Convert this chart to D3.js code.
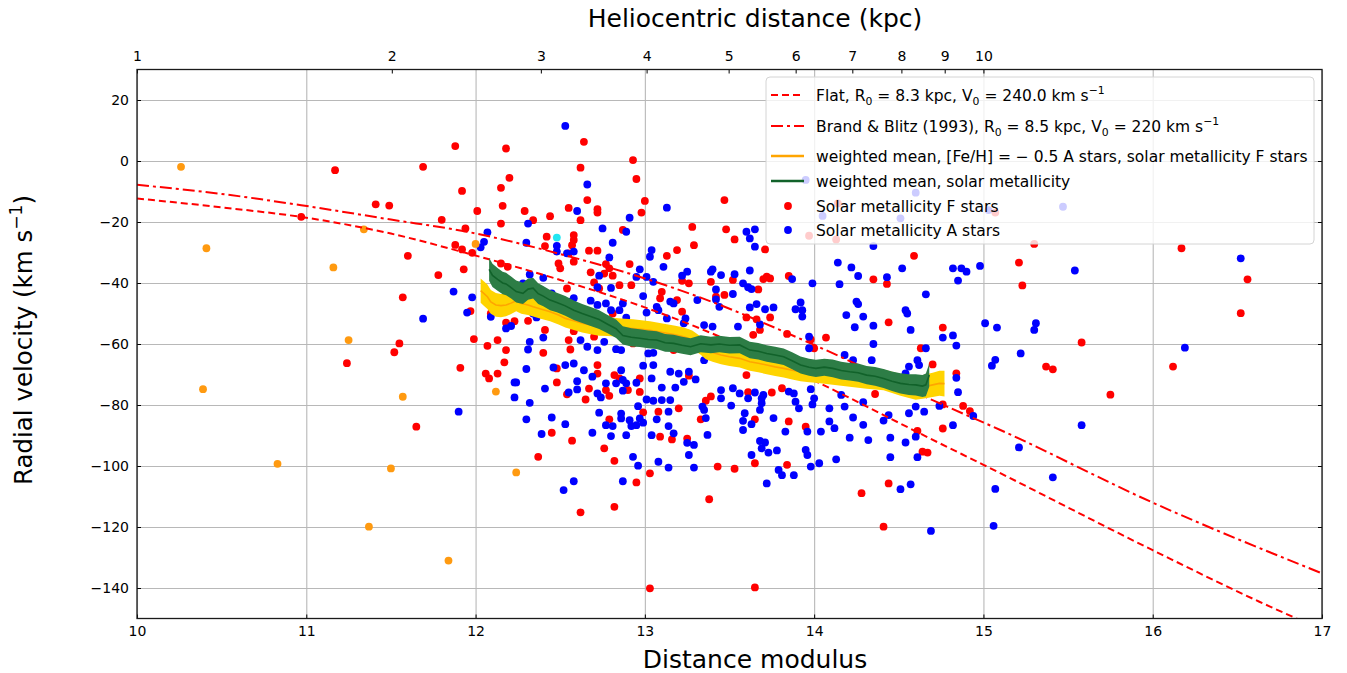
<!DOCTYPE html>
<html><head><meta charset="utf-8">
<script src="https://cdn.jsdelivr.net/npm/d3@7"></script>
<style>body{margin:0;background:#fff}svg{font-family:"DejaVu Sans",sans-serif}</style>
</head><body><svg id="c" width="1347" height="673"></svg>
<script>
// ---------------- DATA ----------------
const xTicks=[10,11,12,13,14,15,16,17];
const yTicks=[-140,-120,-100,-80,-60,-40,-20,0,20];
const kpcTicks=[1,2,3,4,5,6,7,8,9,10];

// model curves
const flatMu=[10,10.5,11,11.5,11.92,12.5,13,13.33,14,14.74,15,16,16.63,16.87];
const flatV=[-12.3,-15.2,-18.6,-23.8,-29.8,-39,-48,-55,-72,-92.5,-99.6,-127.6,-144.5,-150.5];
const bbMu=[10,10.5,10.97,11.5,11.95,12.5,13,13.33,13.98,14.74,15.1,16,17];
const bbV=[-7.8,-10.8,-14.5,-19.2,-23.2,-30.5,-38.5,-44.8,-59.8,-79.4,-88.2,-112,-135.2];

// weighted mean, solar metallicity (green)
const greenMu=[12.08,12.10,12.13,12.16,12.18,12.21,12.24,12.28,12.31,12.34,12.37,12.40,12.44,12.48,12.53,12.58,12.63,12.68,12.73,12.78,12.83,12.87,12.92,12.97,13.02,13.07,13.12,13.17,13.22,13.27,13.33,13.39,13.44,13.50,13.56,13.62,13.67,13.72,13.77,13.82,13.87,13.92,13.97,14.01,14.06,14.11,14.16,14.21,14.26,14.31,14.36,14.41,14.46,14.51,14.56,14.60,14.64,14.66,14.68];
const greenV=[-35.5,-37.5,-38.8,-40.0,-40.3,-41.5,-42.8,-43.4,-42.0,-41.7,-43.5,-44.3,-45.6,-46.4,-47.5,-48.9,-50.0,-51.0,-52.0,-53.5,-55.0,-57.2,-57.8,-58.1,-58.5,-58.7,-59.6,-59.8,-60.4,-60.9,-59.9,-60.3,-60.0,-60.4,-60.3,-62.0,-62.4,-63.1,-63.6,-64.2,-65.5,-66.9,-67.6,-68.0,-67.6,-68.0,-68.7,-69.1,-69.4,-70.2,-70.6,-71.3,-72.2,-72.9,-73.3,-73.4,-73.8,-73.4,-70.2];
const greenErr=[3.8,3.8,3.7,3.7,3.7,3.6,3.6,3.5,3.5,3.4,3.4,3.3,3.3,3.2,3.2,3.2,3.1,3.1,3.1,3.0,3.0,3.0,3.0,2.9,2.9,2.9,2.9,2.8,2.8,2.8,2.8,2.7,2.7,2.7,2.7,2.7,2.7,2.7,2.7,2.7,2.8,2.8,2.8,2.8,2.8,2.9,2.9,2.9,3.0,3.0,3.1,3.1,3.2,3.3,3.4,3.5,3.6,3.7,3.8];

// weighted mean, [Fe/H]=-0.5 A + solar F (orange)
const orangeMu=[12.03,12.05,12.07,12.09,12.12,12.15,12.18,12.21,12.24,12.27,12.31,12.34,12.39,12.44,12.49,12.53,12.58,12.63,12.68,12.73,12.78,12.83,12.88,12.93,12.98,13.03,13.08,13.13,13.18,13.23,13.28,13.33,13.36,13.40,13.45,13.50,13.56,13.62,13.67,13.72,13.77,13.82,13.87,13.92,13.97,14.01,14.06,14.11,14.16,14.21,14.31,14.41,14.46,14.51,14.56,14.60,14.65,14.70,14.74,14.77];
const orangeV=[-42.5,-43.5,-44.5,-46.2,-47.2,-47.4,-47.2,-46.6,-45.8,-46.7,-47.2,-47.8,-48.6,-49.4,-50.5,-51.6,-52.4,-53.2,-53.8,-54.3,-54.4,-54.5,-54.7,-54.9,-55.2,-55.5,-56.0,-56.5,-57.0,-57.6,-58.6,-60.5,-62.0,-62.8,-63.6,-64.2,-64.7,-65.8,-66.3,-66.9,-67.5,-68.0,-68.6,-69.1,-69.4,-69.6,-69.9,-70.2,-70.5,-70.8,-71.4,-71.8,-72.6,-73.4,-74.0,-74.5,-74.0,-73.4,-72.9,-73.0];
const orangeErr=[4.0,4.0,4.0,3.9,3.9,3.8,3.7,3.6,3.5,3.4,3.3,3.2,3.2,3.1,3.1,3.0,3.0,3.0,3.0,3.0,3.0,3.0,3.0,3.0,3.0,3.0,3.0,3.0,3.0,3.0,3.0,3.0,3.0,3.0,3.0,3.0,3.0,3.0,3.0,3.0,3.0,3.0,3.0,3.1,3.1,3.1,3.1,3.2,3.2,3.2,3.3,3.4,3.5,3.6,3.7,3.8,3.9,4.0,4.1,4.2];

// Solar metallicity F stars [distance modulus, RV]
const fStars=[[11.17,-3],[11.69,-1.9],[11.88,4.9],[11.92,-9.8],[11.41,-14.2],[11.49,-14.6],[10.97,-18.3],[11.80,-19.3],[11.94,-22.1],[11.88,-27.5],[11.92,-29],[11.60,-31.1],[11.93,-35.5],[11.78,-37.4],[11.57,-44.7],[11.55,-59.8],[11.52,-62.7],[11.24,-66.3],[11.91,-67.8],[11.65,-87.1],
[12.18,4.1],[12.64,6.3],[12.93,0.3],[12.62,-2.2],[12.95,-5.9],[12.20,-5.5],[12.15,-8.8],[12.66,-12.8],[13.00,-13.1],[12.16,-14.7],[12.01,-16.4],[12.29,-16.4],[12.34,-19.4],[12.44,-18.1],[12.55,-15.4],[12.72,-15.8],[12.72,-16.9],[12.62,-19.4],[12.98,-16.9],[12.15,-20.5],[13.28,-21.6],[13.29,-27.6],[12.87,-22.6],[12.42,-24.8],[12.58,-24.3],[12.58,-25.9],[12.57,-27.6],[11.98,-30.1],[12.41,-27.9],[12.55,-30.3],[12.67,-29.4],[12.72,-29.4],[12.15,-33.6],[12.19,-34.7],[12.49,-33.6],[12.50,-35.2],[12.58,-33.0],[12.77,-33.8],[12.91,-33.8],[13.13,-31.1],[13.19,-29.2],[12.76,-36.9],[12.68,-36.5],[12.79,-35.2],[12.81,-37.6],[12.54,-41.8],[12.70,-39.8],[12.73,-41.8],[12.85,-40.7],[12.92,-40.7],[13.22,-39.3],[13.26,-40.1],[13.10,-42.9],[13.19,-45.6],[13.22,-49.4],[11.97,-49.2],[12.09,-50],[12.18,-53],[12.23,-52.5],[12.31,-52.4],[12.41,-55.4],[12.58,-55.8],[12.68,-49.6],[12.81,-50],[12.84,-53.2],[12.90,-53.8],[13.09,-45.0],[11.99,-58.4],[12.13,-58.7],[12.18,-62],[12.55,-58.7],[12.56,-61.8],[12.70,-57.6],[12.93,-59.8],[12.97,-57.6],[13.17,-62],[13.28,-57.6],[12.07,-60.6],[12.40,-62.9],
[12.17,-66.0],[12.06,-69.7],[12.08,-71.3],[12.13,-69.7],[12.48,-68.0],[12.48,-72.6],[12.72,-66.9],[12.72,-69.7],[12.82,-70.2],[12.85,-71.3],[12.97,-71.3],[12.97,-75.7],[12.90,-75.1],[12.67,-74.6],[12.77,-75.1],[12.79,-77],[12.54,-76.5],[12.65,-78.2],[13.26,-70.4],[13.20,-81.1],[13.09,-90.4],[13.16,-91.3],[13.25,-91],[12.99,-82.4],[13.08,-82.2],[12.79,-84.7],[12.45,-89.1],[12.57,-91.7],[12.76,-94.2],[12.82,-98.3],[12.37,-97],[13.03,-102.4],[12.95,-105.4],[12.82,-113.4],[12.62,-115.2],[13.03,-140.1],
[13.47,-12.8],[13.48,-22.4],[13.53,-25.7],[13.71,-29],[13.97,-24.5],[14.13,-25.7],[14.14,-13.9],[14.59,-31.1],[14.35,-38.8],[14.43,-40.3],[13.39,-39.6],[13.52,-39],[13.70,-38.7],[13.72,-37.9],[13.74,-38.5],[13.85,-37.7],[13.67,-42.1],[13.42,-44.5],[13.47,-43.9],[13.60,-51.3],[13.66,-51.9],[13.74,-51.3],[13.68,-55.4],[13.64,-57],[13.84,-56.7],[14.07,-57.9],[13.98,-58.5],[14.44,-52.9],[14.63,-61.4],[14.70,-66.7],[13.60,-70.2],[14.00,-61.4],
[13.61,-75.8],[13.39,-77.2],[13.36,-78.6],[13.33,-84.7],[13.65,-84.7],[13.75,-75.9],[13.81,-74.5],[13.95,-87.1],[13.85,-85.4],[14.36,-76.4],[14.61,-88.5],[14.64,-95.3],[14.67,-95.6],[13.43,-100.2],[13.53,-100.9],[13.65,-99.1],[13.84,-99.6],[13.38,-110.9],[14.28,-108.9],[14.44,-105.7],[14.41,-119.9],[13.65,-139.8],
[15.07,-16.9],[15.30,-27.2],[15.21,-33.3],[15.23,-40.8],[16.17,-28.6],[16.56,-38.8],[16.52,-49.9],[14.76,-54.6],[14.84,-69.6],[14.76,-79.8],[14.88,-80.3],[14.92,-82],[14.76,-87.7],[15.37,-67.4],[15.41,-68.3],[15.58,-59.5],[15.75,-76.6],[16.12,-67.4]];

// Solar metallicity A stars
const aStars=[[11.87,-42.8],[11.69,-51.7],[11.95,-49.7],[11.90,-82.2],
[12.53,11.5],[12.66,-7.7],[12.60,-16.4],[12.91,-18.6],[13.13,-15.3],[12.75,-22.1],[12.89,-23.2],[12.31,-20.5],[12.07,-23.4],[12.05,-26.5],[12.03,-28.3],[12.30,-26.8],[12.48,-27.8],[12.48,-29.7],[12.58,-29.7],[12.54,-30.3],[12.81,-26.8],[12.79,-31.6],[12.80,-41.6],[12.73,-37.6],[12.72,-41.4],[13.04,-29.2],[13.03,-31.4],[13.11,-34.7],[12.97,-35.5],[13.01,-38],[12.95,-38],[13.05,-39.6],[13.22,-37.6],[13.25,-36.3],[12.32,-37.2],[12.28,-40.1],[12.40,-38.3],[11.98,-44.7],[12.09,-51.1],[12.45,-43.4],[12.56,-46.1],[12.58,-45.0],[12.68,-45.8],[12.72,-47.2],[12.77,-46.7],[12.80,-48.9],[12.87,-46.7],[12.85,-48.9],[12.89,-51.4],[12.99,-44.3],[13.07,-47.8],[13.08,-48.9],[13.15,-46.1],[13.17,-46.7],[13.31,-45.6],[13.01,-49.7],[13.13,-51.6],[13.24,-51.6],[13.23,-53.2],[12.34,-50],[12.36,-51.3],[12.18,-54.9],[12.21,-54.1],[12.32,-59.3],[12.31,-61.8],[12.40,-57.9],[12.62,-58.7],[12.66,-60.9],[12.72,-62],[12.76,-59.3],[12.83,-61.7],[12.86,-62],[13.02,-63.1],[13.05,-62.9],[13.21,-59.3],[13.25,-56.5],
[12.23,-72.6],[12.24,-72.6],[12.23,-77.5],[12.30,-68.2],[12.41,-74.6],[12.32,-79.3],[12.46,-67.7],[12.53,-66.9],[12.58,-66.4],[12.60,-72.2],[12.55,-75.9],[12.60,-74.9],[12.64,-68.6],[12.69,-70.7],[12.72,-76.2],[12.74,-77.5],[12.77,-72.9],[12.83,-72.9],[12.86,-68.6],[12.87,-71.8],[12.89,-72.9],[12.87,-75.3],[12.95,-72.7],[12.99,-67.1],[13.05,-66.9],[13.04,-71.3],[13.10,-74.3],[13.15,-69.1],[13.18,-74.3],[13.20,-69.7],[13.23,-72.4],[13.26,-69.1],[13.30,-71.6],[13.01,-78.2],[13.05,-78.6],[13.10,-78.4],[13.15,-78.4],[13.14,-82.2],[12.96,-80.4],[12.73,-82.5],[12.86,-82.8],[12.86,-84.4],[12.91,-85],[12.97,-84.4],[12.99,-85.8],[12.95,-86.6],[12.92,-86.9],[12.81,-86.9],[12.77,-86.6],[12.80,-90.2],[12.89,-89.9],[13.07,-84.7],[13.14,-86.9],[13.17,-89.3],[13.04,-89.9],[12.69,-89.1],[12.53,-86.3],[12.45,-84.1],[12.30,-84.7],[12.39,-89.5],[13.25,-92.4],[13.29,-93.1],[13.26,-96.4],[13.29,-100.5],[13.14,-100.5],[13.08,-98.6],[12.96,-99.9],[12.93,-97],[12.87,-105],[12.58,-105],[12.52,-107.9],
[13.60,-23.2],[13.65,-22.4],[13.62,-25.4],[13.65,-28.1],[14.05,-18],[14.51,-18.8],[14.35,-27.9],[14.14,-33.3],[14.22,-34.9],[14.52,-35.2],[14.26,-37.7],[14.43,-38.1],[14.15,-40.4],[13.99,-40.1],[13.87,-38.7],[13.40,-35.5],[13.39,-36.3],[13.45,-37.4],[13.53,-37.1],[13.62,-35.9],[13.58,-40.1],[13.61,-41.4],[13.63,-42],[13.42,-42.1],[13.52,-43.6],[13.42,-45.4],[13.44,-47.8],[13.62,-48],[13.66,-46.9],[13.71,-48.6],[13.76,-48],[13.92,-46.4],[13.89,-48.6],[13.93,-48.9],[13.93,-51.0],[13.55,-54.3],[13.35,-53.8],[13.40,-54.3],[13.68,-53.6],[13.97,-57.6],[14.19,-50.5],[14.24,-54.5],[14.29,-51],[14.25,-46.1],[14.26,-46.9],[14.35,-54],[14.57,-55.4],[14.54,-48.9],[14.55,-50],[14.66,-43.7],[14.35,-60],[14.18,-63.6],[14.23,-65.3],[14.34,-65.3],[14.66,-61.4],[14.61,-65.3],[14.62,-66.9],[14.56,-67.4],[14.54,-69.6],[13.35,-65.3],[13.97,-61.4],[13.95,-6.2],[14.60,-10.4],
[13.45,-75.1],[13.52,-74.5],[13.45,-77.8],[13.51,-80.2],[13.56,-76.2],[13.61,-77.8],[13.65,-75.9],[13.34,-80.5],[13.35,-81.6],[13.36,-84.3],[13.37,-89.8],[13.59,-82.7],[13.58,-85.2],[13.63,-86.3],[13.58,-88.2],[13.69,-77.8],[13.70,-76.7],[13.69,-79.4],[13.68,-81.6],[13.68,-91.8],[13.71,-92.3],[13.69,-94.2],[13.73,-95.6],[13.63,-96.4],[13.76,-84.3],[13.78,-94.9],[13.83,-88.7],[13.85,-75.6],[13.88,-76.2],[13.89,-78.9],[13.91,-81.1],[13.98,-74.8],[14.00,-77.8],[13.99,-79.8],[13.96,-88.7],[13.95,-94.7],[13.96,-96.4],[13.98,-100.2],[14.03,-99.1],[14.13,-97.8],[13.79,-101.3],[13.81,-103.0],[13.88,-103],[13.72,-105.7],[14.09,-81.1],[14.09,-85.4],[14.12,-87.6],[14.04,-88.7],[14.18,-80.5],[14.23,-84.1],[14.21,-90.7],[14.29,-86.5],[14.32,-91.5],[14.29,-79.1],[14.16,-76.7],[14.41,-85.1],[14.44,-83.3],[14.45,-90.7],[14.45,-97.1],[14.54,-92.3],[14.56,-82.7],[14.60,-90.4],[14.61,-97.1],[14.65,-82.2],[14.60,-80.5],[14.51,-107.6],[14.57,-106],[14.69,-121.3],
[15.03,-16.1],[15.47,-15],[14.82,-35.2],[14.87,-35.2],[14.90,-36.3],[14.85,-39.2],[14.98,-34.4],[15.54,-35.9],[16.52,-31.9],[15.01,-53.2],[15.08,-54.6],[15.31,-53.2],[15.30,-55.4],[14.76,-57.9],[14.82,-57.2],[14.84,-60.5],[15.22,-63.1],[15.07,-65.2],[15.05,-67.1],[14.84,-71.1],[14.85,-75.8],[14.74,-80.3],[14.82,-86.6],[14.94,-83.6],[16.19,-61.2],[15.58,-86.6],[15.21,-93.9],[15.41,-103.7],[15.07,-107.5],[15.06,-119.6]];

// metal-poor stars (orange dots) and one cyan point
const poorStars=[[10.26,-1.9],[10.41,-28.6],[10.39,-74.8],[10.83,-99.3],[11.16,-34.9],[11.34,-22.4],[11.25,-58.7],[11.57,-77.3],[11.50,-100.8],[11.37,-119.9],[11.84,-131],[12.0,-27.2],[12.12,-75.6],[12.24,-102.1]];
const cyanStars=[[12.48,-25.1]];

// ---------------- CHART ----------------
const m={l:137,r:1322,t:69.5,b:618.5};
const labelCX=755;
const svg=d3.select("#c");
const x=d3.scaleLinear().domain([10,17]).range([m.l,m.r]);
const y=d3.scaleLinear().domain([-150,30]).range([m.b,m.t]);
const xTop=d3.scaleLog().domain([1,Math.pow(10,1.4)]).range([m.l,m.r]);

svg.append("defs").append("clipPath").attr("id","clip").append("rect")
  .attr("x",m.l).attr("y",m.t).attr("width",m.r-m.l).attr("height",m.b-m.t);

// grid
const gx=svg.append("g").attr("transform",`translate(0,${m.b})`)
  .call(d3.axisBottom(x).tickValues(xTicks).tickSize(-(m.b-m.t)).tickFormat(""));
const gy=svg.append("g").attr("transform",`translate(${m.l},0)`)
  .call(d3.axisLeft(y).tickValues(yTicks).tickSize(-(m.r-m.l)).tickFormat(""));
[gx,gy].forEach(g=>{g.select(".domain").remove();g.selectAll("line").attr("stroke","#b8b8b8").attr("stroke-width",1.1);});

const plot=svg.append("g").attr("clip-path","url(#clip)");
const R=3.9;
plot.append("g").selectAll("circle").data(fStars).join("circle")
  .attr("cx",d=>x(d[0])).attr("cy",d=>y(d[1])).attr("r",R).attr("fill","#ff0000");
plot.append("g").selectAll("circle").data(aStars).join("circle")
  .attr("cx",d=>x(d[0])).attr("cy",d=>y(d[1])).attr("r",R).attr("fill","#0000ff");
plot.append("g").selectAll("circle").data(poorStars).join("circle")
  .attr("cx",d=>x(d[0])).attr("cy",d=>y(d[1])).attr("r",R).attr("fill","#ff9a10");
plot.append("g").selectAll("circle").data(cyanStars).join("circle")
  .attr("cx",d=>x(d[0])).attr("cy",d=>y(d[1])).attr("r",R).attr("fill","#22e6f2");

// model curves
const line=d3.line().x(d=>x(d[0])).y(d=>y(d[1])).curve(d3.curveMonotoneX);
plot.append("path").datum(d3.zip(flatMu,flatV)).attr("d",line)
  .attr("fill","none").attr("stroke","#ff0000").attr("stroke-width",2).attr("stroke-dasharray","7,4");
plot.append("path").datum(d3.zip(bbMu,bbV)).attr("d",line)
  .attr("fill","none").attr("stroke","#ff0000").attr("stroke-width",2).attr("stroke-dasharray","12,4,3,4");

// bands
const band=d3.area().x(d=>x(d[0])).y0(d=>y(d[1]-d[2])).y1(d=>y(d[1]+d[2]));
const mline=d3.line().x(d=>x(d[0])).y(d=>y(d[1]));
const oData=d3.zip(orangeMu,orangeV,orangeErr), gData=d3.zip(greenMu,greenV,greenErr);
plot.append("path").datum(oData).attr("d",band).attr("fill","#ffd400");
plot.append("path").datum(oData).attr("d",mline).attr("fill","none").attr("stroke","#ffa500").attr("stroke-width",1.6);
plot.append("path").datum(gData).attr("d",band).attr("fill","#2d7d46");
plot.append("path").datum(gData).attr("d",mline).attr("fill","none").attr("stroke","#11622a").attr("stroke-width",1.6);

// axes (inward ticks)
const fmt=d=>d<0?"\u2212"+Math.abs(d):String(d);
const ax=[];
ax.push(svg.append("g").attr("transform",`translate(0,${m.b})`)
  .call(d3.axisBottom(x).tickValues(xTicks).tickSizeInner(-4).tickSizeOuter(0).tickPadding(8).tickFormat(d3.format("d"))));
ax.push(svg.append("g").attr("transform",`translate(${m.l},0)`)
  .call(d3.axisLeft(y).tickValues(yTicks).tickSizeInner(-4).tickSizeOuter(0).tickPadding(8).tickFormat(fmt)));
ax.push(svg.append("g").attr("transform",`translate(${m.r},0)`)
  .call(d3.axisRight(y).tickValues(yTicks).tickSizeInner(-4).tickSizeOuter(0).tickFormat("")));
ax.push(svg.append("g").attr("transform",`translate(0,${m.t})`)
  .call(d3.axisTop(xTop).tickValues(kpcTicks).tickSizeInner(-4).tickSizeOuter(0).tickPadding(9).tickFormat(d3.format("d"))));
ax.forEach(g=>{g.select(".domain").remove();g.selectAll("line").attr("stroke","#000").attr("stroke-width",1);
  g.selectAll("text").attr("font-size",14).attr("fill","#000").attr("font-family","DejaVu Sans");});
svg.append("rect").attr("x",m.l).attr("y",m.t).attr("width",m.r-m.l).attr("height",m.b-m.t)
  .attr("fill","none").attr("stroke","#1a1a1a").attr("stroke-width",1.3);

// rich text helper
function rich(t,parts,fs){
  let shift=0;
  parts.forEach(p=>{
    const s=t.append("tspan").text(p[0]);
    let target=0;
    if(p[1]==="sub"){target=fs*0.28;s.attr("font-size",fs*0.7);}
    else if(p[1]==="sup"){target=-fs*0.42;s.attr("font-size",fs*0.7);}
    if(target!==shift){s.attr("dy",target-shift);shift=target;}
  });
}

// axis labels
svg.append("text").attr("x",labelCX).attr("y",27).attr("text-anchor","middle")
  .attr("font-size",25).text("Heliocentric distance (kpc)");
svg.append("text").attr("x",labelCX).attr("y",668).attr("text-anchor","middle")
  .attr("font-size",25).text("Distance modulus");
const yl=svg.append("text").attr("transform",`translate(32,${(m.t+m.b)/2-4}) rotate(-90)`)
  .attr("text-anchor","middle").attr("font-size",24.5);
rich(yl,[["Radial velocity (km s"],["\u22121","sup"],[")"]],24.5);

// legend
const lg=svg.append("g");
lg.append("rect").attr("x",766).attr("y",77).attr("width",548).attr("height",167).attr("rx",4)
  .attr("fill","#fff").attr("fill-opacity",0.8).attr("stroke","#d4d4d4").attr("stroke-width",1);
const legendRows=[
  {y:95,type:"dash",parts:[["Flat, R"],["0","sub"],[" = 8.3 kpc, V"],["0","sub"],[" = 240.0 km s"],["\u22121","sup"]]},
  {y:126,type:"dashdot",parts:[["Brand & Blitz (1993), R"],["0","sub"],[" = 8.5 kpc, V"],["0","sub"],[" = 220 km s"],["\u22121","sup"]]},
  {y:156,type:"orange",parts:[["weighted mean, [Fe/H] = \u2212 0.5 A stars, solar metallicity F stars"]]},
  {y:181,type:"green",parts:[["weighted mean, solar metallicity"]]},
  {y:206,type:"red",parts:[["Solar metallicity F stars"]]},
  {y:230,type:"blue",parts:[["Solar metallicity A stars"]]}
];
const LFS=15.5;
legendRows.forEach(r=>{
  if(r.type==="red"||r.type==="blue"){
    lg.append("circle").attr("cx",788).attr("cy",r.y).attr("r",R).attr("fill",r.type==="red"?"#ff0000":"#0000ff");
  } else {
    const l=lg.append("line").attr("x1",771).attr("x2",804).attr("y1",r.y).attr("y2",r.y).attr("stroke-width",2);
    if(r.type==="dash") l.attr("stroke","#ff0000").attr("stroke-dasharray","7,4");
    if(r.type==="dashdot") l.attr("stroke","#ff0000").attr("stroke-dasharray","12,4,3,4");
    if(r.type==="orange") l.attr("stroke","#ffa500").attr("stroke-width",2.5);
    if(r.type==="green") l.attr("stroke","#11622a").attr("stroke-width",2.5);
  }
  const t=lg.append("text").attr("x",816).attr("y",r.y+5.5).attr("font-size",LFS);
  rich(t,r.parts,LFS);
});
</script></body></html>
